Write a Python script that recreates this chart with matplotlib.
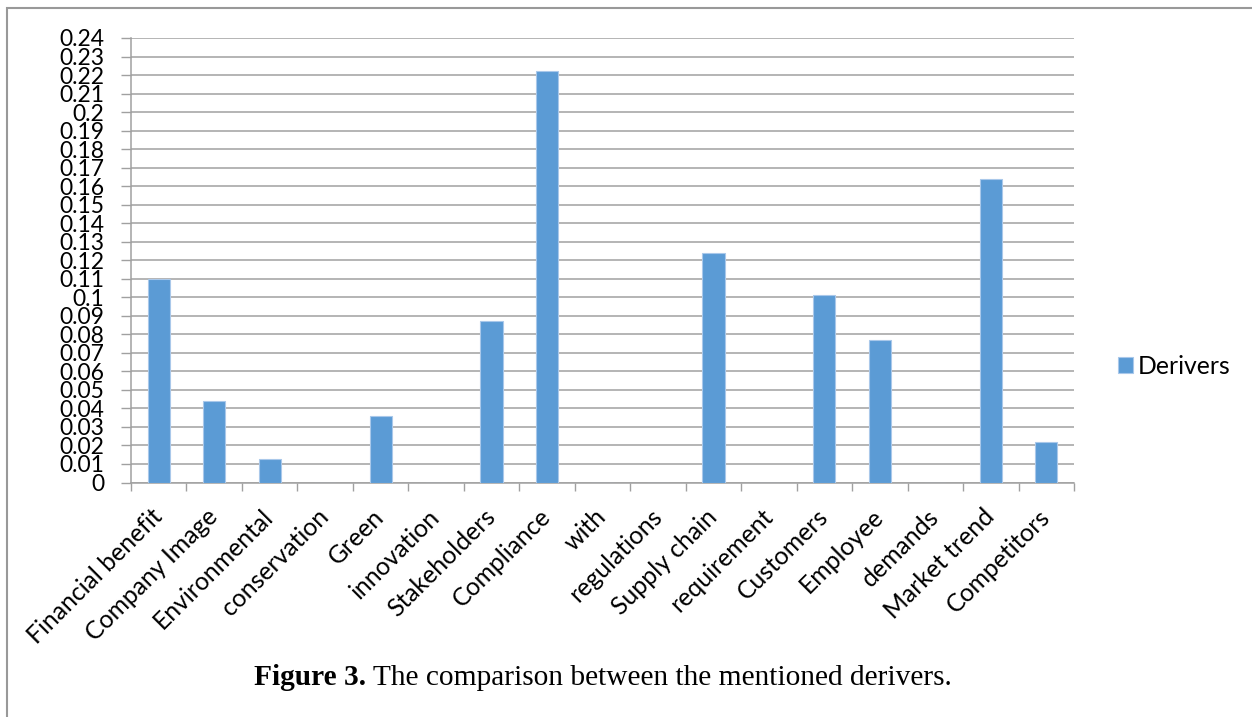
import matplotlib
matplotlib.use("Agg")
import matplotlib.pyplot as plt
from matplotlib.patches import Rectangle
from matplotlib.ticker import FixedLocator
import numpy as np

categories = ["Financial benefit", "Company Image", "Environmental", "conservation",
              "Green", "innovation", "Stakeholders", "Compliance", "with",
              "regulations", "Supply chain", "requirement", "Customers", "Employee",
              "demands", "Market trend", "Competitors"]
values = [0.110, 0.044, 0.0125, 0.0, 0.036, 0.0, 0.087, 0.222, 0.0, 0.0,
          0.124, 0.0, 0.101, 0.077, 0.0, 0.164, 0.022]
series_name = "Derivers"
y_ticks = [round(i * 0.01, 2) for i in range(25)]
y_labels = ["0" if v == 0 else ("%g" % v) for v in y_ticks]
caption_bold = "Figure 3."
caption_text = " The comparison between the mentioned derivers."

W, H = 1252, 717
fig = plt.figure(figsize=(W / 100, H / 100), dpi=100)
font = "Lato"
fs_y = 16.5
fs_x = 17.8
bar_color = "#5B9BD5"
grid_color = "#A0A0A0"

ax = fig.add_axes([131 / W, 1 - 482.5 / H, (1074 - 131) / W, (482.5 - 38) / H])
x = np.arange(len(categories))
ax.bar(x, values, width=0.4, color=bar_color, edgecolor="#A9C8EA", linewidth=0.8,
       label=series_name, zorder=3)
ax.set_xlim(-0.5, len(categories) - 0.5)
ax.set_ylim(0, 0.24)

ax.set_yticks(y_ticks)
ax.set_yticklabels(y_labels, fontsize=fs_y, family=font)
ax.yaxis.grid(True, color=grid_color, linewidth=1.1, zorder=0)
ax.tick_params(axis="y", length=7, width=1, color=grid_color, pad=12)

ax.xaxis.set_major_locator(FixedLocator(x))
ax.set_xticklabels(categories, fontsize=fs_x, family=font, rotation=45,
                   ha="right", rotation_mode="anchor")
ax.tick_params(axis="x", which="major", length=0, pad=22)
ax.xaxis.set_minor_locator(FixedLocator(np.arange(len(categories) + 1) - 0.5))
ax.tick_params(axis="x", which="minor", length=6, width=1, color=grid_color)
for lbl in ax.get_xticklabels():
    lbl.set_verticalalignment("center")

for s in ["top", "right"]:
    ax.spines[s].set_visible(False)
for s in ["left", "bottom"]:
    ax.spines[s].set_color(grid_color)
    ax.spines[s].set_linewidth(1.1)

leg = fig.legend(loc="center left", bbox_to_anchor=(1096 / W, 1 - 366 / H),
                 frameon=False, prop={"family": font, "size": fs_x},
                 handlelength=0.6, handleheight=0.6, handletextpad=0.2)

# outer frame
fig.add_artist(Rectangle((7 / W, -0.05), 1.1, 1 - 8 / H + 0.05, transform=fig.transFigure,
                         fill=False, edgecolor="#999999", linewidth=1.5))

# caption
t1 = fig.text(254 / W, 1 - 685 / H, caption_bold, fontsize=21.2, family="Liberation Serif",
              fontweight="bold", va="baseline", ha="left")
fig.canvas.draw()
bb = t1.get_window_extent()
fig.text(bb.x1 / W, 1 - 685 / H, caption_text, fontsize=21.2, family="Liberation Serif",
         va="baseline", ha="left")

fig.savefig("out.png", dpi=100)
